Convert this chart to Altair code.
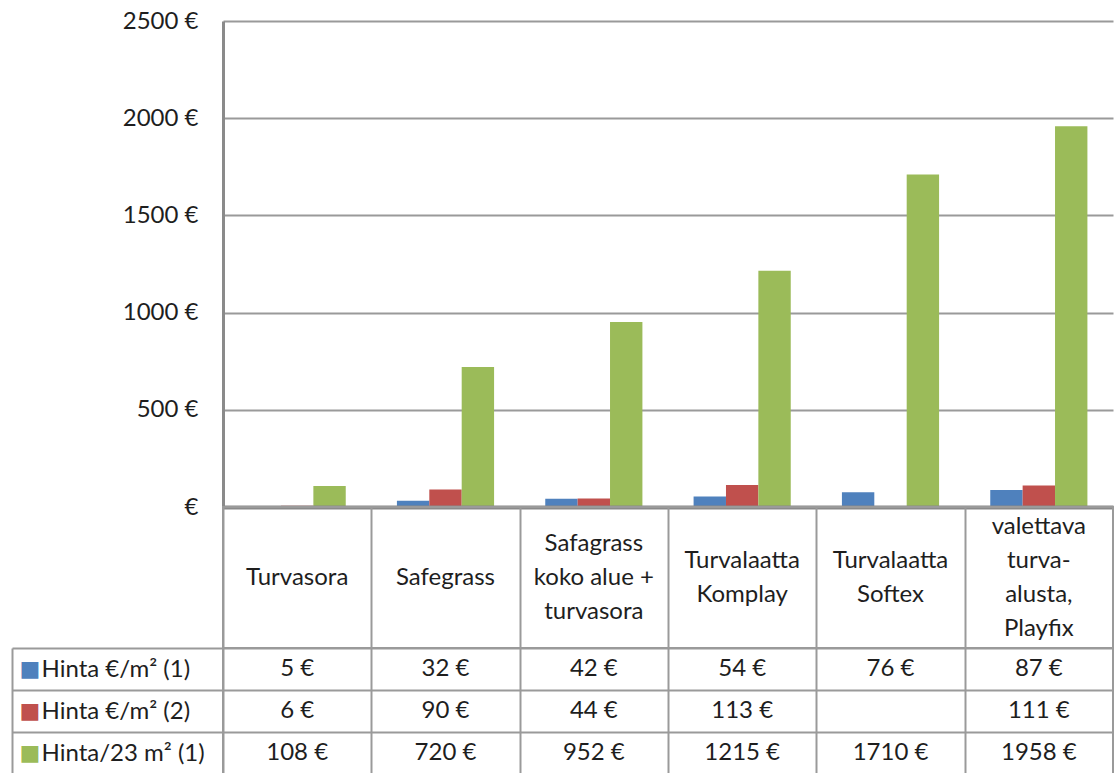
import altair as alt
import pandas as pd

categories = ["Turvasora", "Safegrass", "Safagrass koko alue + turvasora",
              "Turvalaatta Komplay", "Turvalaatta Softex", "valettava turva-alusta, Playfix"]
header_labels = ["Turvasora", "Safegrass", "Safagrass\nkoko alue +\nturvasora",
                 "Turvalaatta\nKomplay", "Turvalaatta\nSoftex", "valettava\nturva-\nalusta,\nPlayfix"]
series = ["Hinta €/m² (1)", "Hinta €/m² (2)", "Hinta/23 m² (1)"]
hinta_m2_1 = [5, 32, 42, 54, 76, 87]
hinta_m2_2 = [6, 90, 44, 113, None, 111]
hinta_23m2_1 = [108, 720, 952, 1215, 1710, 1958]
colors = ["#4F81BD", "#C0504D", "#9BBB59"]
y_ticks = [0, 500, 1000, 1500, 2000, 2500]

FONT = "Lato"
FS = 24
TEXT = "#1e1e1e"
LINE = "#9a9a9a"
LINE_H = 34
HDR_H = 141

rows = []
for s, vals in zip(series, [hinta_m2_1, hinta_m2_2, hinta_23m2_1]):
    for c, v in zip(categories, vals):
        if v is not None:
            rows.append({"cat": c, "series": s, "value": v, "txt": f"{v} €"})
df = pd.DataFrame(rows)
hdr_df = pd.DataFrame({"cat": categories, "label": header_labels})
ser_df = pd.DataFrame({"series": series})

x_bar_scale = alt.Scale(domain=categories, paddingInner=0.345, paddingOuter=0.1725)
x_tab_scale = alt.Scale(domain=categories, paddingInner=0, paddingOuter=0)
y_ser_scale = alt.Scale(domain=series, paddingInner=0, paddingOuter=0)

bars = alt.Chart(df).mark_bar().encode(
    x=alt.X("cat:N", sort=categories, scale=x_bar_scale,
            axis=alt.Axis(labels=False, ticks=False, title=None, domain=True,
                          domainColor="#8a8a8a", domainWidth=4, grid=False, zindex=1)),
    xOffset=alt.XOffset("series:N", sort=series,
                        scale=alt.Scale(domain=series, paddingInner=0, paddingOuter=0)),
    y=alt.Y("value:Q", scale=alt.Scale(domain=[0, 2500]),
            axis=alt.Axis(values=y_ticks, title=None, ticks=False,
                          labelExpr="datum.value == 0 ? '€' : datum.value + ' €'",
                          labelFont=FONT, labelFontSize=FS, labelColor=TEXT, labelPadding=25,
                          domain=True, domainColor="#8a8a8a", domainWidth=3,
                          grid=True, gridColor=LINE, gridWidth=2)),
    color=alt.Color("series:N", scale=alt.Scale(domain=series, range=colors), legend=None),
).properties(width=890, height=486, view=alt.ViewBackground(strokeWidth=0))

# header: multi-line names, vertically centred on their line count
hdr = alt.Chart(hdr_df).transform_calculate(
    shift=f"(length(split(datum.label, '\\n')) - 1) * {LINE_H / 2}"
).mark_text(
    font=FONT, fontSize=FS, color=TEXT, lineBreak="\n", lineHeight=LINE_H, baseline="middle"
).encode(
    x=alt.X("cat:N", sort=categories, scale=x_tab_scale,
            axis=alt.Axis(labels=False, ticks=False, domain=False, title=None, grid=True,
                          tickBand="extent", gridColor=LINE, gridWidth=2)),
    y=alt.Y("shift:Q", scale=alt.Scale(domain=[-HDR_H / 2, HDR_H / 2]), axis=None),
    text="label:N",
).properties(width=890, height=HDR_H, view=alt.ViewBackground(stroke=LINE, strokeWidth=2))

vals_text = alt.Chart(df).mark_text(font=FONT, fontSize=FS, color=TEXT, baseline="middle").encode(
    x=alt.X("cat:N", sort=categories, scale=x_tab_scale,
            axis=alt.Axis(labels=False, ticks=False, domain=False, title=None, grid=True,
                          tickBand="extent", gridColor=LINE, gridWidth=2)),
    y=alt.Y("series:N", sort=series, scale=y_ser_scale,
            axis=alt.Axis(orient="left", title=None, domain=False, ticks=True, tickSize=211,
                          tickBand="extent", tickColor=LINE, tickWidth=2, grid=True,
                          gridColor=LINE, gridWidth=2, labelAlign="left", labelPadding=-29,
                          labelFont=FONT, labelFontSize=FS, labelColor=TEXT,
                          labelBaseline="middle")),
    text="txt:N",
)

label_color = {
    "condition": [
        {"test": f"datum.value === '{series[0]}'", "value": colors[0]},
        {"test": f"datum.value === '{series[1]}'", "value": colors[1]},
    ],
    "value": colors[2],
}
squares = alt.Chart(ser_df).mark_text(opacity=0).encode(
    y=alt.Y("series:N", sort=series, scale=y_ser_scale,
            axis=alt.Axis(orient="left", offset=211, title=None, domain=True, domainColor=LINE,
                          domainWidth=2, ticks=False, grid=False, labelExpr="'■'",
                          labelAlign="left", labelPadding=-7, labelColor=label_color,
                          labelFont="DejaVu Sans", labelFontSize=22, labelBaseline="middle")),
    text=alt.value(""),
)

vals = alt.layer(vals_text, squares).resolve_axis(y="independent").properties(
    width=890, height=126, view=alt.ViewBackground(stroke=LINE, strokeWidth=2))

chart = alt.vconcat(bars, hdr, vals, spacing=0, bounds="flush").properties(
    padding={"left": 10, "top": 9, "right": 0, "bottom": 0},
    background="white",
)

chart.save("out.html", embed_options={"renderer": "svg", "actions": False})
